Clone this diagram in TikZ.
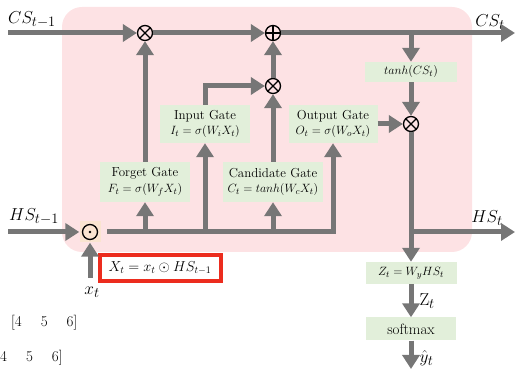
\documentclass[tikz,border=0pt]{standalone}
\usepackage{amsmath, amssymb}
\usepackage{tikz}
\usetikzlibrary{positioning, arrows.meta}
\definecolor{cellpink}{RGB}{253,226,228}
\definecolor{gatefill}{RGB}{226,239,218}
\definecolor{flowgray}{RGB}{118,118,118}
\definecolor{hadfill}{RGB}{250,228,208}
\definecolor{boxred}{RGB}{236,44,30}
\tikzset{
  flow/.style    = {flowgray, line width=5pt, -{Triangle[length=14pt,width=17pt]}},
  gatebox/.style = {fill=gatefill, align=center, inner sep=1pt, font=\fontsize{13}{15.5}\selectfont},
  mult/.style    = {circle, draw, line width=1.3pt, minimum size=15pt, inner sep=0pt,
                    path picture={\draw[line width=1.3pt]
                      (path picture bounding box.north west) -- (path picture bounding box.south east)
                      (path picture bounding box.north east) -- (path picture bounding box.south west);}},
  plus/.style    = {circle, draw, line width=1.3pt, minimum size=15pt, inner sep=0pt,
                    path picture={\draw[line width=1.3pt]
                      (path picture bounding box.north) -- (path picture bounding box.south)
                      (path picture bounding box.east) -- (path picture bounding box.west);}},
  hadamard/.style= {circle, draw, line width=1.3pt, minimum size=15pt, inner sep=0pt,
                    path picture={\fill (path picture bounding box.center) circle (1.4pt);}},
  lbl/.style     = {inner sep=0pt, text=black, font=\fontsize{19}{19}\selectfont},
  numrow/.style  = {inner sep=0pt, anchor=west, font=\fontsize{15}{15}\selectfont}
}

\begin{document}
\begin{tikzpicture}[x=1pt, y=-1pt]
  \useasboundingbox (0,0) rectangle (515,371);
  \clip (0,0) rectangle (515,371);
  \fill[cellpink, rounded corners=20pt] (62,7) rectangle (472,252);

  \node[mult] (fmul) at (145,33)  {};
  \node[plus] (cadd) at (273,33)  {};
  \node[mult] (imul) at (273,86)  {};
  \node[mult] (omul) at (411,124) {};
  \node[fill=hadfill, minimum size=21pt, inner sep=0pt] (hadbg) at (90,232) {};
  \node[hadamard] (had) at (hadbg) {};

  \node[gatebox, minimum width=90pt,  minimum height=40pt] (fgate) at (145,182) {Forget Gate\\ $F_t = \sigma(W_f X_t)$};
  \node[gatebox, minimum width=90pt,  minimum height=38pt] (igate) at (205,124) {Input Gate\\ $I_t = \sigma(W_i X_t)$};
  \node[gatebox, minimum width=100pt, minimum height=40pt] (cgate) at (273,182) {Candidate Gate\\ $C_t = tanh(W_c X_t)$};
  \node[gatebox, minimum width=89pt,  minimum height=38pt] (ogate) at (333,124) {Output Gate\\ $O_t = \sigma(W_o X_t)$};
  \node[gatebox, minimum width=92pt,  minimum height=20pt] (tanhb) at (411,72)  {$tanh(CS_t)$};
  \node[gatebox, minimum width=91pt,  minimum height=22pt] (zbox)  at (411,273) {$Z_t = W_y HS_t$};
  \node[gatebox, minimum width=90pt,  minimum height=23pt, font=\fontsize{15}{15}\selectfont] (smax) at (411,329) {softmax};
  \node[draw=boxred, fill=white, line width=4pt, minimum width=121pt, minimum height=26pt, inner sep=0pt,
        font=\fontsize{14.5}{14.5}\selectfont] (xdef) at (160,268) {$X_t = x_t \odot HS_{t-1}$};

  \node[lbl] (csprev) at (32,20)   {$CS_{t-1}$};
  \node[lbl] (csnext) at (490,22)  {$CS_t$};
  \node[lbl] (hsprev) at (34,217)  {$HS_{t-1}$};
  \node[lbl] (hsnext) at (487,218) {$HS_t$};
  \node[lbl] (xin)    at (92,292)  {$x_t$};
  \node[numrow] (rowa) at (11,323) {[4\hspace{19pt}5\hspace{19pt}6]};
  \node[numrow] (rowb) at (0,358)  {4\hspace{19pt}5\hspace{19pt}6]};

  \coordinate (csin)  at (8,33);
  \coordinate (csout) at (515,33);
  \coordinate (hsin)  at (8,232);
  \coordinate (hsrun) at (107,232);
  \coordinate (hsout) at (515,232);
  \coordinate (yout)  at (411,369);

  \draw[flow] (csin) -- (fmul.west);
  \draw[flow] (fmul.east) -- (cadd.west);
  \draw[flow] (cadd.east) -- (csout);
  \draw[flow] (tanhb.north |- cadd.east) -- (tanhb.north);
  \draw[flow] (tanhb.south) -- (omul.north);
  \draw[flow] (ogate.east) -- (omul.west);
  \draw[flow] (omul.south) -- (zbox.north);
  \draw[flow] (omul.south |- hsout) -- (hsout);
  \draw[flow] (zbox.south) -- node[right=6pt, lbl]{$\mathrm{Z}_t$} (smax.north);
  \draw[flow] (smax.south) -- node[right=6pt, lbl, yshift=-3pt]{$\hat{y}_t$} (yout);

  \draw[flow] (hsin) -- (hadbg.west);
  \draw[flow, shorten <=9pt] (xin.north -| hadbg) -- (hadbg.south);
  \draw[flow] (hsrun) -| (ogate.south);
  \draw[flow] (fgate.south |- hsrun) -- (fgate.south);
  \draw[flow] (igate.south |- hsrun) -- (igate.south);
  \draw[flow] (cgate.south |- hsrun) -- (cgate.south);
  \draw[flow] (fgate.north) -- (fmul.south);
  \draw[flow] (igate.north) |- (imul.west);
  \draw[flow] (cgate.north) -- (imul.south);
  \draw[flow] (imul.north) -- (cadd.south);
\end{tikzpicture}
\end{document}
